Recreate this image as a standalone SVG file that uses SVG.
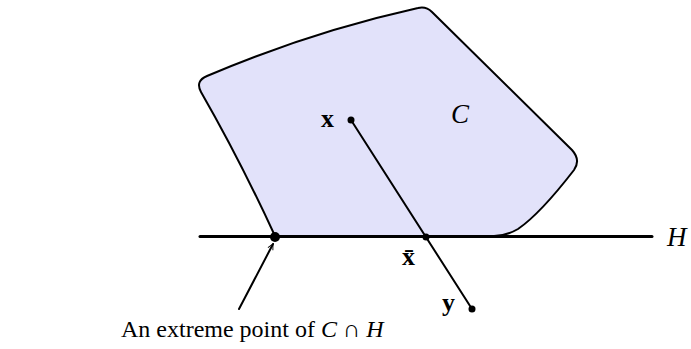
<svg xmlns="http://www.w3.org/2000/svg" width="691" height="349" viewBox="0 0 691 349">
<style>
.lbl{font-family:"Liberation Serif","DejaVu Serif",serif;font-size:24px;fill:#000}
.m{font-size:27px}
.b{font-weight:bold;font-size:26px}
.i{font-style:italic}
.ln{stroke:#000;fill:none;stroke-linecap:round}
</style>
<defs>
<marker id="arr" viewBox="0 0 10 10" refX="9" refY="5" markerWidth="7" markerHeight="7" orient="auto" markerUnits="userSpaceOnUse">
<path d="M1,1 L9,5 L1,9" fill="none" stroke="#000" stroke-width="1.3"/>
</marker>
</defs>
<g id="setC">
<path d="M275,236 Q240,160 201,92 Q195,81 207,76 Q310,32 418,8 Q426,6 432,12 L572,150 Q581,160 574,170 Q540,214 518,229 Q506,236 494,236 Z" fill="#e2e2fa" stroke="#000" stroke-width="2" stroke-linejoin="round"/>
<text class="lbl m i" x="451" y="123">C</text>
</g>
<g id="hyperplaneH">
<line class="ln" x1="200" y1="236.5" x2="652" y2="236.5" stroke-width="3"/>
<text class="lbl m i" x="667" y="246">H</text>
</g>
<g id="connectors">
<line class="ln" x1="351" y1="120" x2="472" y2="309" stroke-width="2"/>
<line class="ln" x1="239" y1="309" x2="273" y2="244" stroke-width="2" marker-end="url(#arr)"/>
</g>
<g id="pointX">
<circle cx="351" cy="120" r="3.5" fill="#000"/>
<text class="lbl b" x="321" y="127">x</text>
</g>
<g id="pointXbar">
<circle cx="426" cy="237" r="3.5" fill="#000"/>
<text class="lbl b" x="402" y="265">x̄</text>
</g>
<g id="pointY">
<circle cx="472" cy="309" r="3.5" fill="#000"/>
<text class="lbl b" x="442" y="311">y</text>
</g>
<g id="extremePoint">
<circle cx="275" cy="237" r="5" fill="#000"/>
<text class="lbl" x="121" y="337">An extreme point of <tspan class="i">C</tspan> ∩ <tspan class="i">H</tspan></text>
</g>
</svg>
